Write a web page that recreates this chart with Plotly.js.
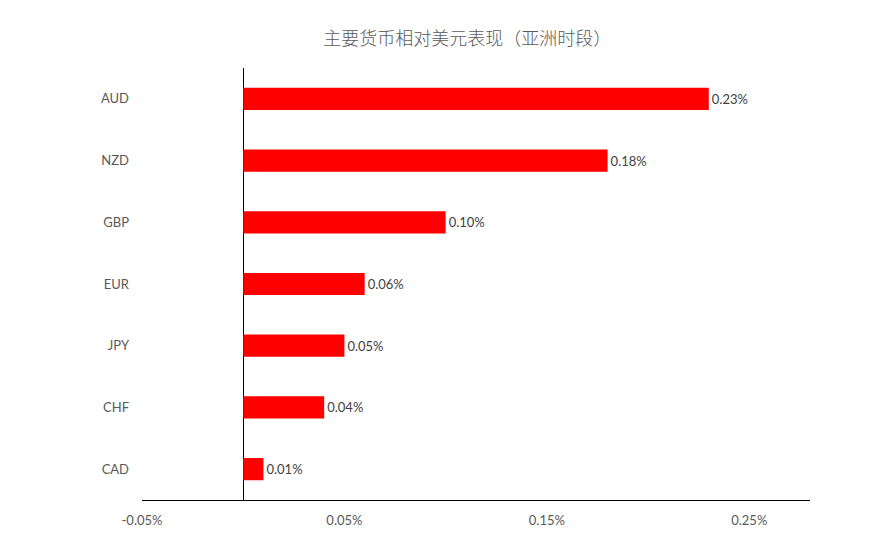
<!DOCTYPE html>
<html>
<head>
<meta charset="utf-8">
<script src="https://cdn.plot.ly/plotly-3.0.1.min.js"></script>
<style>html,body{margin:0;padding:0;background:#fff;}#chart{width:885px;height:558px;}</style>
</head>
<body>
<div id="chart"></div>
<script>
const currencies = ["AUD", "NZD", "GBP", "EUR", "JPY", "CHF", "CAD"];
const changes = [0.23, 0.18, 0.10, 0.06, 0.05, 0.04, 0.01];
const tickValues = [-0.05, 0.05, 0.15, 0.25];
const tickLabels = ["-0.05%", "0.05%", "0.15%", "0.25%"];
const titleText = "主要货币相对美元表现（亚洲时段）";

const trace = {
  type: "bar",
  orientation: "h",
  y: currencies,
  x: changes,
  marker: {color: "#ff0000"},
  text: changes.map(v => v.toFixed(2) + "%"),
  textposition: "outside",
  cliponaxis: false,
  textfont: {family: "Lato, 'Open Sans', sans-serif", size: 13, color: "#404040"},
  hoverinfo: "none"
};

const layout = {
  width: 885,
  height: 558,
  margin: {l: 142, r: 75, t: 68, b: 58},
  paper_bgcolor: "#fff",
  plot_bgcolor: "#fff",
  showlegend: false,
  bargap: 0.64,
  title: {
    text: titleText,
    font: {family: "'Noto Sans CJK SC', sans-serif", size: 18, color: "#595959", weight: 300},
    x: 0.528, xanchor: "center", y: 0.93, yanchor: "middle"
  },
  xaxis: {
    range: [-0.05, 0.28],
    tickvals: tickValues,
    ticktext: tickLabels,
    showgrid: false,
    zeroline: true,
    zerolinecolor: "#000",
    zerolinewidth: 1,
    showline: true,
    linecolor: "#000",
    linewidth: 1,
    ticks: "",
    ticklabelstandoff: 8,
    tickfont: {family: "Lato, 'Open Sans', sans-serif", size: 13, color: "#595959"},
    fixedrange: true
  },
  yaxis: {
    autorange: "reversed",
    showgrid: false,
    zeroline: false,
    showline: false,
    ticks: "",
    ticklabelstandoff: 12,
    tickfont: {family: "Lato, 'Open Sans', sans-serif", size: 13, color: "#595959"},
    fixedrange: true
  }
};

Plotly.newPlot("chart", [trace], layout, {displayModeBar: false, staticPlot: true});
</script>
</body>
</html>
